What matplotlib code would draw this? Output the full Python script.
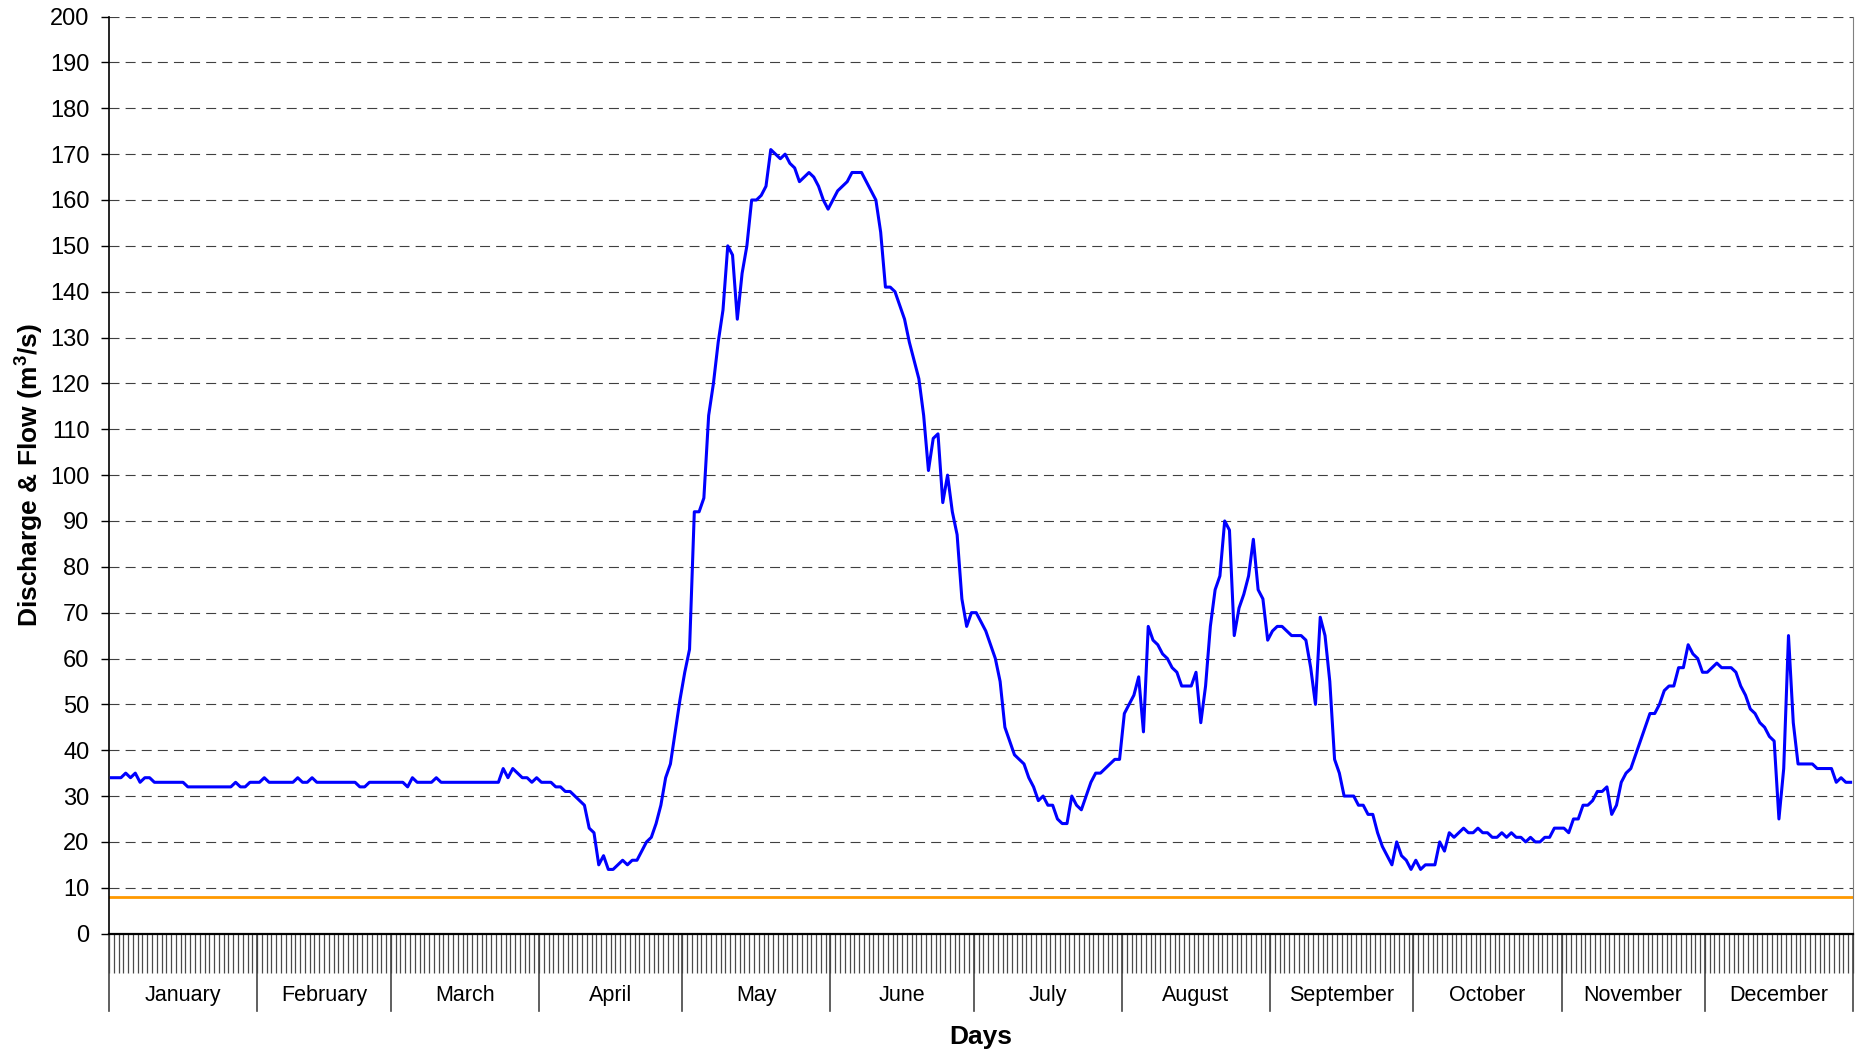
import numpy as np
import matplotlib
matplotlib.use("Agg")
import matplotlib.pyplot as plt
import matplotlib.transforms as mtransforms

plt.rcParams['font.family'] = ['Liberation Sans', 'DejaVu Sans']
plt.rcParams['mathtext.fontset'] = 'custom'
plt.rcParams['mathtext.rm'] = 'Liberation Sans'
plt.rcParams['mathtext.bf'] = 'Liberation Sans:bold'

# daily discharge, one list per month (m3/s)
jan = [34, 34, 34, 35, 34, 35, 33, 34, 34, 33, 33, 33, 33, 33, 33, 33, 32, 32, 32, 32,
       32, 32, 32, 32, 32, 32, 33, 32, 32, 33, 33]
feb = [33, 34, 33, 33, 33, 33, 33, 33, 34, 33, 33, 34, 33, 33, 33, 33, 33, 33, 33, 33,
       33, 32, 32, 33, 33, 33, 33, 33]
mar = [33, 33, 33, 32, 34, 33, 33, 33, 33, 34, 33, 33, 33, 33, 33, 33, 33, 33, 33, 33,
       33, 33, 33, 36, 34, 36, 35, 34, 34, 33, 34]
apr = [33, 33, 33, 32, 32, 31, 31, 30, 29, 28, 23, 22, 15, 17, 14, 14, 15, 16, 15, 16,
       16, 18, 20, 21, 24, 28, 34, 37, 44, 51]
may = [57, 62, 92, 92, 95, 113, 120, 129, 136, 150, 148, 134, 144, 150, 160, 160, 161,
       163, 171, 170, 169, 170, 168, 167, 164, 165, 166, 165, 163, 160, 158]
jun = [160, 162, 163, 164, 166, 166, 166, 164, 162, 160, 153, 141, 141, 140, 137, 134,
       129, 125, 121, 113, 101, 108, 109, 94, 100, 92, 87, 73, 67, 70]
jul = [70, 68, 66, 63, 60, 55, 45, 42, 39, 38, 37, 34, 32, 29, 30, 28, 28, 25, 24, 24,
       30, 28, 27, 30, 33, 35, 35, 36, 37, 38, 38]
aug = [48, 50, 52, 56, 44, 67, 64, 63, 61, 60, 58, 57, 54, 54, 54, 57, 46, 54, 67, 75,
       78, 90, 88, 65, 71, 74, 78, 86, 75, 73, 64]
sep = [66, 67, 67, 66, 65, 65, 65, 64, 58, 50, 69, 65, 55, 38, 35, 30, 30, 30, 28, 28,
       26, 26, 22, 19, 17, 15, 20, 17, 16, 14]
oct_ = [16, 14, 15, 15, 15, 20, 18, 22, 21, 22, 23, 22, 22, 23, 22, 22, 21, 21, 22, 21,
        22, 21, 21, 20, 21, 20, 20, 21, 21, 23, 23]
nov = [23, 22, 25, 25, 28, 28, 29, 31, 31, 32, 26, 28, 33, 35, 36, 39, 42, 45, 48, 48,
       50, 53, 54, 54, 58, 58, 63, 61, 60, 57]
dec = [57, 58, 59, 58, 58, 58, 57, 54, 52, 49, 48, 46, 45, 43, 42, 25, 36, 65, 46, 37,
       37, 37, 37, 36, 36, 36, 36, 33, 34, 33, 33]

months = ['January', 'February', 'March', 'April', 'May', 'June', 'July',
          'August', 'September', 'October', 'November', 'December']
month_data = [jan, feb, mar, apr, may, jun, jul, aug, sep, oct_, nov, dec]
threshold = 8

flow = np.concatenate(month_data)
ndays = len(flow)
days = np.arange(ndays) + 0.5
bounds = np.concatenate([[0], np.cumsum([len(m) for m in month_data])])

fig = plt.figure(figsize=(18.6, 10.54), dpi=100)
ax = fig.add_axes([109/1860, 1 - 933.6/1054, 1744/1860, 917/1054])

ax.plot(days, flow, color='#0000FF', lw=2.2, zorder=3)
ax.axhline(threshold, color='#FF9900', lw=2.0, zorder=2)

ax.set_xlim(0, ndays)
ax.set_ylim(0, 200)
ax.set_yticks(np.arange(0, 201, 10))
ax.yaxis.grid(True, color='#404040', lw=0.8, dashes=(9, 5.5))
ax.set_axisbelow(True)

ax.spines['top'].set_visible(False)
ax.spines['right'].set_color('#808080')
ax.spines['left'].set_linewidth(1.2)
ax.spines['bottom'].set_linewidth(1.6)

ax.tick_params(axis='y', direction='out', length=6, width=1, pad=8, labelsize=17)
ax.set_xticks(np.arange(0, ndays + 1))
ax.tick_params(axis='x', direction='out', length=28, width=0.9, color='#4a4a4a',
               labelbottom=False)

# month separators and labels below the day ticks
trans = mtransforms.blended_transform_factory(ax.transData, ax.transAxes)
for b in bounds:
    ax.plot([b, b], [0, -0.084], transform=trans, color='#444444', lw=1.2,
            clip_on=False)
for name, a, b in zip(months, bounds[:-1], bounds[1:]):
    ax.text((a + b) / 2, -0.067, name, transform=trans, ha='center', va='center',
            fontsize=15.5)

ax.text(0.5, -0.1128, 'Days', transform=ax.transAxes, ha='center', va='center',
        fontsize=19, fontweight='bold')
ax.set_ylabel(r'Discharge & Flow (m$^{\mathbf{3}}$/s)', fontsize=19, fontweight='bold')
ax.yaxis.set_label_coords(-0.0365, 0.5)

fig.savefig('out.png', dpi=100)
